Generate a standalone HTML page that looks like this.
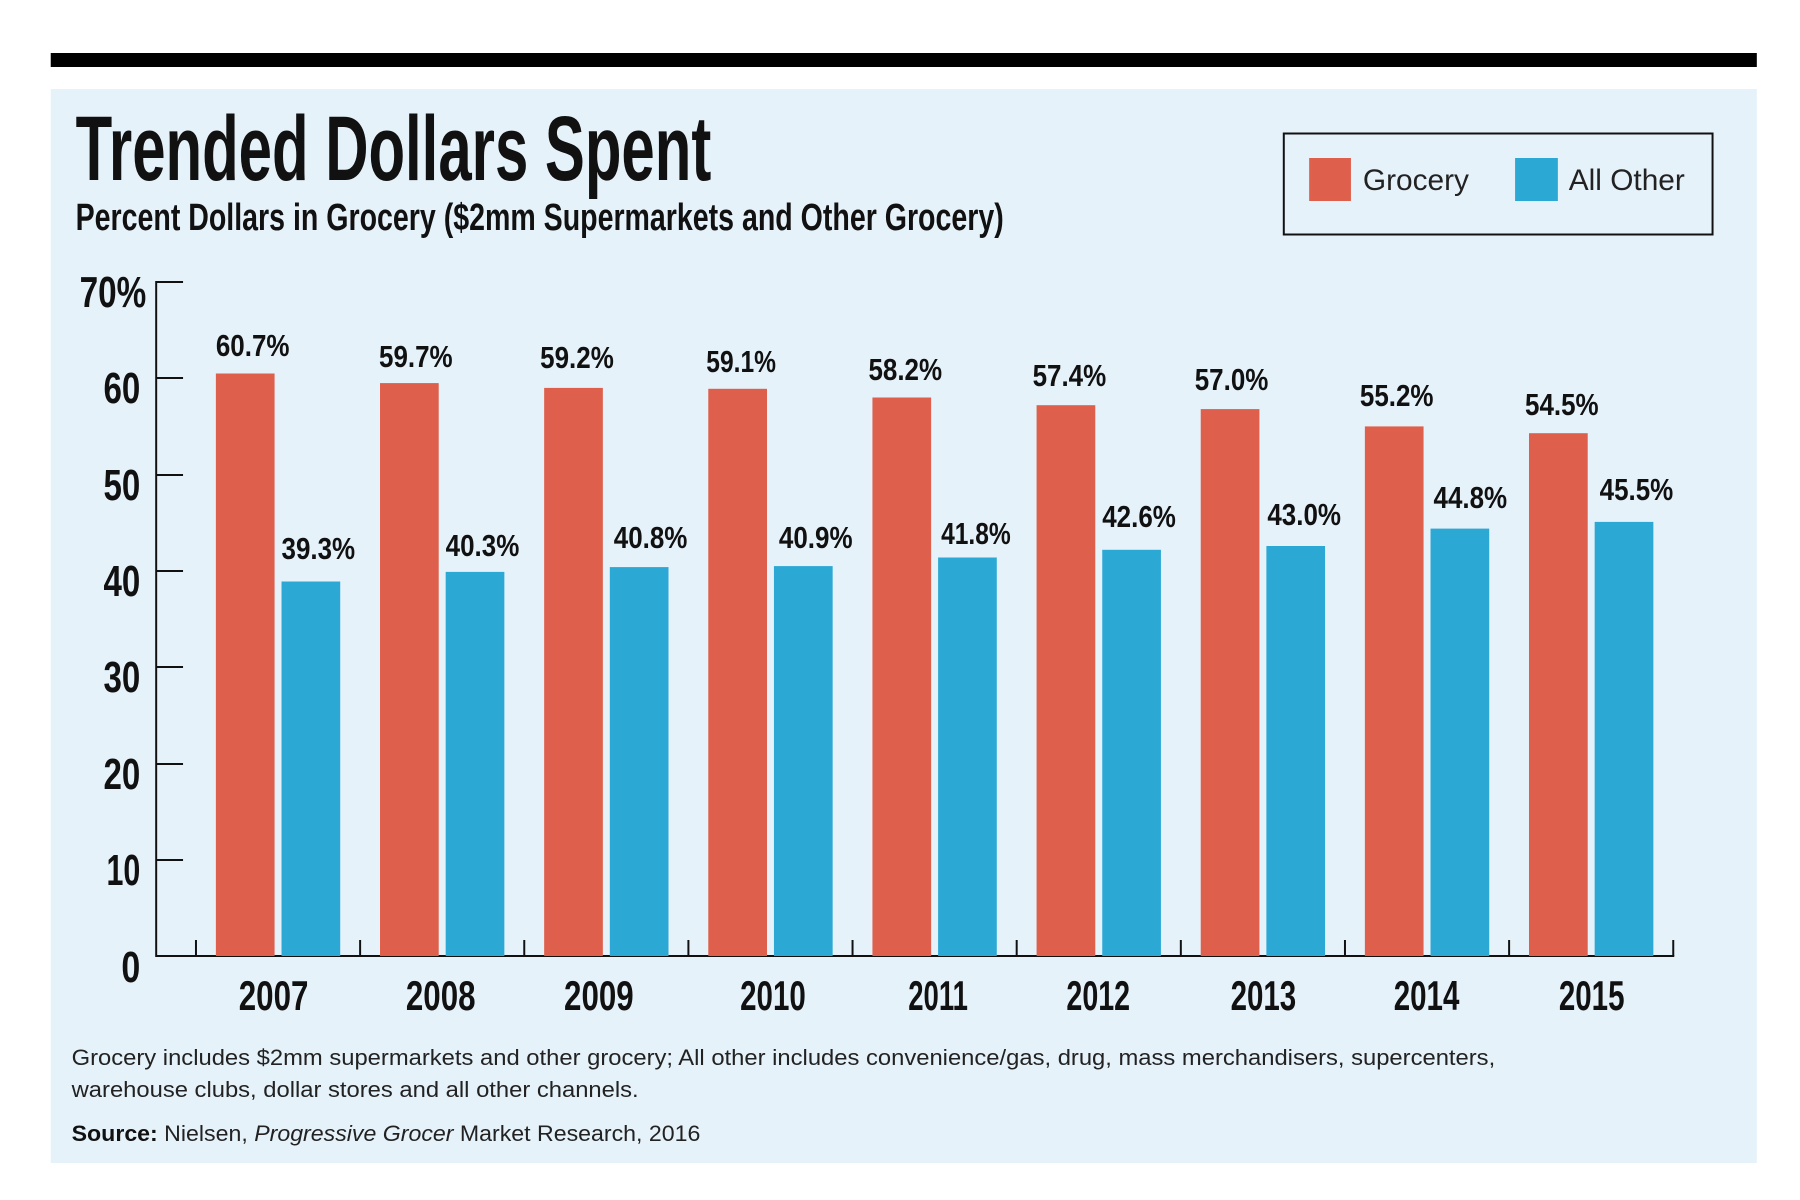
<!DOCTYPE html>
<html><head><meta charset="utf-8"><style>
html,body{margin:0;padding:0;background:#fff;}
svg{display:block;}
.n{font-family:"Liberation Sans Narrow","Liberation Sans",sans-serif;font-weight:bold;fill:#111;}
.r{font-family:"Liberation Sans","DejaVu Sans",sans-serif;fill:#222;}
</style></head><body>
<svg width="1800" height="1200" viewBox="0 0 1800 1200" xmlns="http://www.w3.org/2000/svg">
<rect width="1800" height="1200" fill="#fff"/>
<g transform="scale(0.9948,1)">
<rect x="51" y="53" width="1715" height="14" fill="#000"/>
<rect x="51" y="89" width="1715" height="1074" fill="#e6f2fa"/>
<text class="n" x="76" y="180" font-size="92" textLength="639" lengthAdjust="spacingAndGlyphs">Trended Dollars Spent</text>
<text class="n" x="76" y="230" font-size="38" textLength="933" lengthAdjust="spacingAndGlyphs">Percent Dollars in Grocery ($2mm Supermarkets and Other Grocery)</text>
<rect x="1290.5" y="133.5" width="431" height="101" fill="none" stroke="#111" stroke-width="2"/>
<rect x="1316" y="158" width="42" height="43" fill="#de5f4b"/>
<text class="r" x="1370" y="190" font-size="30">Grocery</text>
<rect x="1523" y="158" width="43" height="43" fill="#2ca8d5"/>
<text class="r" x="1577" y="190" font-size="30">All Other</text>
<g stroke="#111" stroke-width="2" fill="none">
<line x1="157" y1="281" x2="157" y2="957"/>
<line x1="157" y1="956" x2="1683" y2="956"/>
<line x1="157" y1="282" x2="184" y2="282"/>
<line x1="157" y1="378" x2="184" y2="378"/>
<line x1="157" y1="475" x2="184" y2="475"/>
<line x1="157" y1="571" x2="184" y2="571"/>
<line x1="157" y1="667" x2="184" y2="667"/>
<line x1="157" y1="764" x2="184" y2="764"/>
<line x1="157" y1="860" x2="184" y2="860"/>
<line x1="197" y1="940" x2="197" y2="956"/>
<line x1="362" y1="940" x2="362" y2="956"/>
<line x1="527" y1="940" x2="527" y2="956"/>
<line x1="692" y1="940" x2="692" y2="956"/>
<line x1="857" y1="940" x2="857" y2="956"/>
<line x1="1022" y1="940" x2="1022" y2="956"/>
<line x1="1187" y1="940" x2="1187" y2="956"/>
<line x1="1352" y1="940" x2="1352" y2="956"/>
<line x1="1517" y1="940" x2="1517" y2="956"/>
<line x1="1682" y1="940" x2="1682" y2="956"/>
</g>
<g class="n" font-size="44" text-anchor="end">
<text x="147" y="307" textLength="67" lengthAdjust="spacingAndGlyphs">70%</text>
<text x="141" y="403" textLength="37" lengthAdjust="spacingAndGlyphs">60</text>
<text x="141" y="500" textLength="37" lengthAdjust="spacingAndGlyphs">50</text>
<text x="141" y="596" textLength="37" lengthAdjust="spacingAndGlyphs">40</text>
<text x="141" y="692" textLength="37" lengthAdjust="spacingAndGlyphs">30</text>
<text x="141" y="789" textLength="37" lengthAdjust="spacingAndGlyphs">20</text>
<text x="141" y="885" textLength="34" lengthAdjust="spacingAndGlyphs">10</text>
<text x="141" y="982" textLength="19" lengthAdjust="spacingAndGlyphs">0</text>
</g>
<g class="n" font-size="42" text-anchor="middle">
<text x="275" y="1010" textLength="70" lengthAdjust="spacingAndGlyphs">2007</text><text x="443" y="1010" textLength="70" lengthAdjust="spacingAndGlyphs">2008</text><text x="602" y="1010" textLength="70" lengthAdjust="spacingAndGlyphs">2009</text>
<text x="777" y="1010" textLength="66" lengthAdjust="spacingAndGlyphs">2010</text><text x="943" y="1010" textLength="60" lengthAdjust="spacingAndGlyphs">2011</text><text x="1104" y="1010" textLength="64" lengthAdjust="spacingAndGlyphs">2012</text>
<text x="1270" y="1010" textLength="66" lengthAdjust="spacingAndGlyphs">2013</text><text x="1434" y="1010" textLength="66" lengthAdjust="spacingAndGlyphs">2014</text><text x="1600" y="1010" textLength="66" lengthAdjust="spacingAndGlyphs">2015</text>
</g>
<g>
<rect x="217" y="373.5" width="59" height="582.5" fill="#de5f4b"/><rect x="283" y="581.5" width="59" height="374.5" fill="#2ca8d5"/>
<rect x="382" y="383.1" width="59" height="572.9" fill="#de5f4b"/><rect x="448" y="571.9" width="59" height="384.1" fill="#2ca8d5"/>
<rect x="547" y="387.9" width="59" height="568.1" fill="#de5f4b"/><rect x="613" y="567.1" width="59" height="388.9" fill="#2ca8d5"/>
<rect x="712" y="388.8" width="59" height="567.2" fill="#de5f4b"/><rect x="778" y="566.1" width="59" height="389.9" fill="#2ca8d5"/>
<rect x="877" y="397.5" width="59" height="558.5" fill="#de5f4b"/><rect x="943" y="557.5" width="59" height="398.5" fill="#2ca8d5"/>
<rect x="1042" y="405.2" width="59" height="550.8" fill="#de5f4b"/><rect x="1108" y="549.8" width="59" height="406.2" fill="#2ca8d5"/>
<rect x="1207" y="409.1" width="59" height="546.9" fill="#de5f4b"/><rect x="1273" y="546.0" width="59" height="410.0" fill="#2ca8d5"/>
<rect x="1372" y="426.4" width="59" height="529.6" fill="#de5f4b"/><rect x="1438" y="528.6" width="59" height="427.4" fill="#2ca8d5"/>
<rect x="1537" y="433.2" width="59" height="522.8" fill="#de5f4b"/><rect x="1603" y="521.9" width="59" height="434.1" fill="#2ca8d5"/>
</g>
<g class="n" font-size="31" text-anchor="middle">
<text x="254" y="356" textLength="74" lengthAdjust="spacingAndGlyphs">60.7%</text><text x="320" y="559" textLength="74" lengthAdjust="spacingAndGlyphs">39.3%</text>
<text x="418" y="367" textLength="74" lengthAdjust="spacingAndGlyphs">59.7%</text><text x="485" y="556" textLength="74" lengthAdjust="spacingAndGlyphs">40.3%</text>
<text x="580" y="368" textLength="74" lengthAdjust="spacingAndGlyphs">59.2%</text><text x="654" y="548" textLength="74" lengthAdjust="spacingAndGlyphs">40.8%</text>
<text x="745" y="372" textLength="70" lengthAdjust="spacingAndGlyphs">59.1%</text><text x="820" y="548" textLength="74" lengthAdjust="spacingAndGlyphs">40.9%</text>
<text x="910" y="380" textLength="74" lengthAdjust="spacingAndGlyphs">58.2%</text><text x="981" y="544" textLength="70" lengthAdjust="spacingAndGlyphs">41.8%</text>
<text x="1075" y="386" textLength="74" lengthAdjust="spacingAndGlyphs">57.4%</text><text x="1145" y="527" textLength="74" lengthAdjust="spacingAndGlyphs">42.6%</text>
<text x="1238" y="390" textLength="74" lengthAdjust="spacingAndGlyphs">57.0%</text><text x="1311" y="525" textLength="74" lengthAdjust="spacingAndGlyphs">43.0%</text>
<text x="1404" y="406" textLength="74" lengthAdjust="spacingAndGlyphs">55.2%</text><text x="1478" y="508" textLength="74" lengthAdjust="spacingAndGlyphs">44.8%</text>
<text x="1570" y="415" textLength="74" lengthAdjust="spacingAndGlyphs">54.5%</text><text x="1645" y="500" textLength="74" lengthAdjust="spacingAndGlyphs">45.5%</text>
</g>
<text class="r" x="72" y="1065" font-size="22" textLength="1431" lengthAdjust="spacingAndGlyphs">Grocery includes $2mm supermarkets and other grocery; All other includes convenience/gas, drug, mass merchandisers, supercenters,</text>
<text class="r" x="72" y="1097" font-size="22" textLength="570" lengthAdjust="spacingAndGlyphs">warehouse clubs, dollar stores and all other channels.</text>
<text class="r" x="72" y="1141" font-size="22" textLength="632" lengthAdjust="spacingAndGlyphs"><tspan font-weight="bold" fill="#111">Source:</tspan> Nielsen, <tspan font-style="italic">Progressive Grocer</tspan> Market Research, 2016</text>
</g>
</svg>
</body></html>
